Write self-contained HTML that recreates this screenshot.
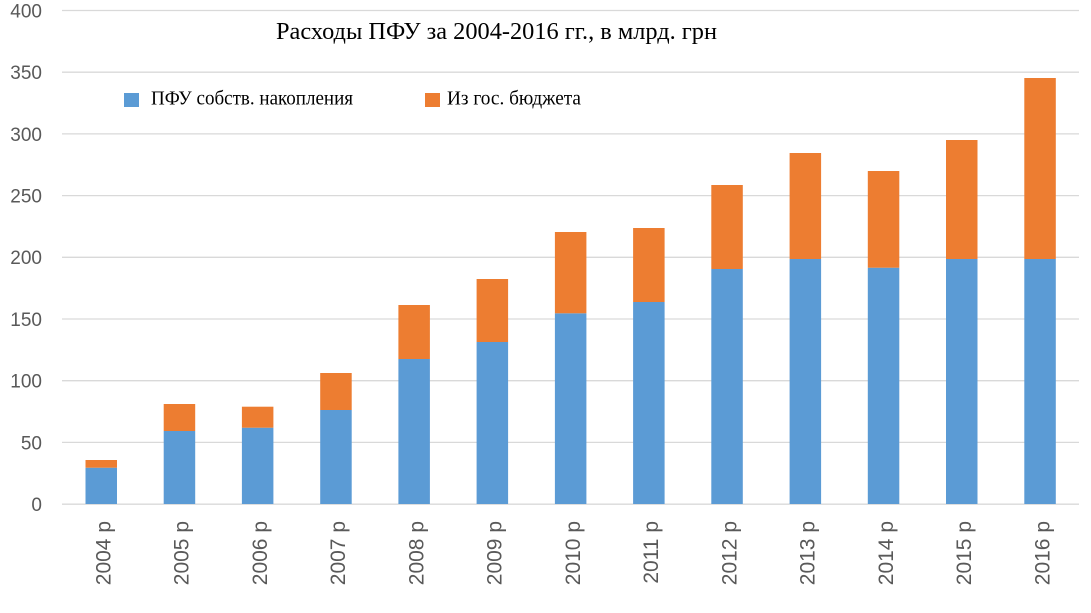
<!DOCTYPE html>
<html>
<head>
<meta charset="utf-8">
<style>
html,body{margin:0;padding:0;background:#fff;}
svg{display:block;}
</style>
</head>
<body>
<svg width="1091" height="613" viewBox="0 0 1091 613" xmlns="http://www.w3.org/2000/svg">
<rect width="1091" height="613" fill="#fff"/>
<!-- gridlines -->
<g stroke="#d9d9d9" stroke-width="1.3">
<line x1="62" y1="10.5" x2="1079" y2="10.5"/>
<line x1="62" y1="72.2" x2="1079" y2="72.2"/>
<line x1="62" y1="133.9" x2="1079" y2="133.9"/>
<line x1="62" y1="195.6" x2="1079" y2="195.6"/>
<line x1="62" y1="257.3" x2="1079" y2="257.3"/>
<line x1="62" y1="319" x2="1079" y2="319"/>
<line x1="62" y1="380.7" x2="1079" y2="380.7"/>
<line x1="62" y1="442.4" x2="1079" y2="442.4"/>
<line x1="62" y1="504.2" x2="1079" y2="504.2"/>
</g>
<!-- y labels -->
<g font-family="Liberation Sans, sans-serif" font-size="19" fill="#595959" text-anchor="end">
<text x="42" y="17.5">400</text>
<text x="42" y="79">350</text>
<text x="42" y="140.8">300</text>
<text x="42" y="202.5">250</text>
<text x="42" y="264.2">200</text>
<text x="42" y="325.9">150</text>
<text x="42" y="387.6">100</text>
<text x="42" y="449.3">50</text>
<text x="42" y="511">0</text>
</g>
<!-- bars -->
<g>
<rect x="85.5" y="467.7" width="31.5" height="36.3" fill="#5b9bd5"/><rect x="85.5" y="460" width="31.5" height="7.7" fill="#ed7d31"/>
<rect x="163.7" y="431" width="31.5" height="73" fill="#5b9bd5"/><rect x="163.7" y="404" width="31.5" height="27" fill="#ed7d31"/>
<rect x="241.9" y="427.7" width="31.5" height="76.3" fill="#5b9bd5"/><rect x="241.9" y="406.7" width="31.5" height="21" fill="#ed7d31"/>
<rect x="320.2" y="410" width="31.5" height="94" fill="#5b9bd5"/><rect x="320.2" y="373" width="31.5" height="37" fill="#ed7d31"/>
<rect x="398.4" y="359" width="31.5" height="145" fill="#5b9bd5"/><rect x="398.4" y="305" width="31.5" height="54" fill="#ed7d31"/>
<rect x="476.6" y="342" width="31.5" height="162" fill="#5b9bd5"/><rect x="476.6" y="279" width="31.5" height="63" fill="#ed7d31"/>
<rect x="554.9" y="313.3" width="31.5" height="190.7" fill="#5b9bd5"/><rect x="554.9" y="232" width="31.5" height="81.3" fill="#ed7d31"/>
<rect x="633.1" y="302" width="31.5" height="202" fill="#5b9bd5"/><rect x="633.1" y="228" width="31.5" height="74" fill="#ed7d31"/>
<rect x="711.3" y="269" width="31.5" height="235" fill="#5b9bd5"/><rect x="711.3" y="185" width="31.5" height="84" fill="#ed7d31"/>
<rect x="789.6" y="259" width="31.5" height="245" fill="#5b9bd5"/><rect x="789.6" y="153" width="31.5" height="106" fill="#ed7d31"/>
<rect x="867.8" y="267.7" width="31.5" height="236.3" fill="#5b9bd5"/><rect x="867.8" y="171" width="31.5" height="96.7" fill="#ed7d31"/>
<rect x="946" y="259" width="31.5" height="245" fill="#5b9bd5"/><rect x="946" y="140" width="31.5" height="119" fill="#ed7d31"/>
<rect x="1024.3" y="259" width="31.5" height="245" fill="#5b9bd5"/><rect x="1024.3" y="78" width="31.5" height="181" fill="#ed7d31"/>
</g>
<!-- x labels -->
<g font-family="Liberation Sans, sans-serif" font-size="21" fill="#595959" text-anchor="end">
<text transform="translate(110.5,521) rotate(-90)">2004 р</text>
<text transform="translate(188.7,521) rotate(-90)">2005 р</text>
<text transform="translate(266.9,521) rotate(-90)">2006 р</text>
<text transform="translate(345.2,521) rotate(-90)">2007 р</text>
<text transform="translate(423.4,521) rotate(-90)">2008 р</text>
<text transform="translate(501.6,521) rotate(-90)">2009 р</text>
<text transform="translate(579.9,521) rotate(-90)">2010 р</text>
<text transform="translate(658.1,521) rotate(-90)">2011 р</text>
<text transform="translate(736.3,521) rotate(-90)">2012 р</text>
<text transform="translate(814.6,521) rotate(-90)">2013 р</text>
<text transform="translate(892.8,521) rotate(-90)">2014 р</text>
<text transform="translate(971,521) rotate(-90)">2015 р</text>
<text transform="translate(1049.3,521) rotate(-90)">2016 р</text>
</g>
<!-- title -->
<text x="276" y="39" font-family="Liberation Serif, serif" font-size="24" fill="#000" textLength="441" lengthAdjust="spacingAndGlyphs">Расходы ПФУ за 2004-2016 гг., в млрд. грн</text>
<!-- legend -->
<rect x="124" y="93" width="15" height="14" fill="#5b9bd5"/>
<text x="151" y="104.5" font-family="Liberation Serif, serif" font-size="19.5" fill="#000" textLength="202" lengthAdjust="spacingAndGlyphs">ПФУ собств. накопления</text>
<rect x="425" y="93" width="15" height="14" fill="#ed7d31"/>
<text x="447" y="104.5" font-family="Liberation Serif, serif" font-size="19.5" fill="#000" textLength="134" lengthAdjust="spacingAndGlyphs">Из гос. бюджета</text>
</svg>
</body>
</html>
